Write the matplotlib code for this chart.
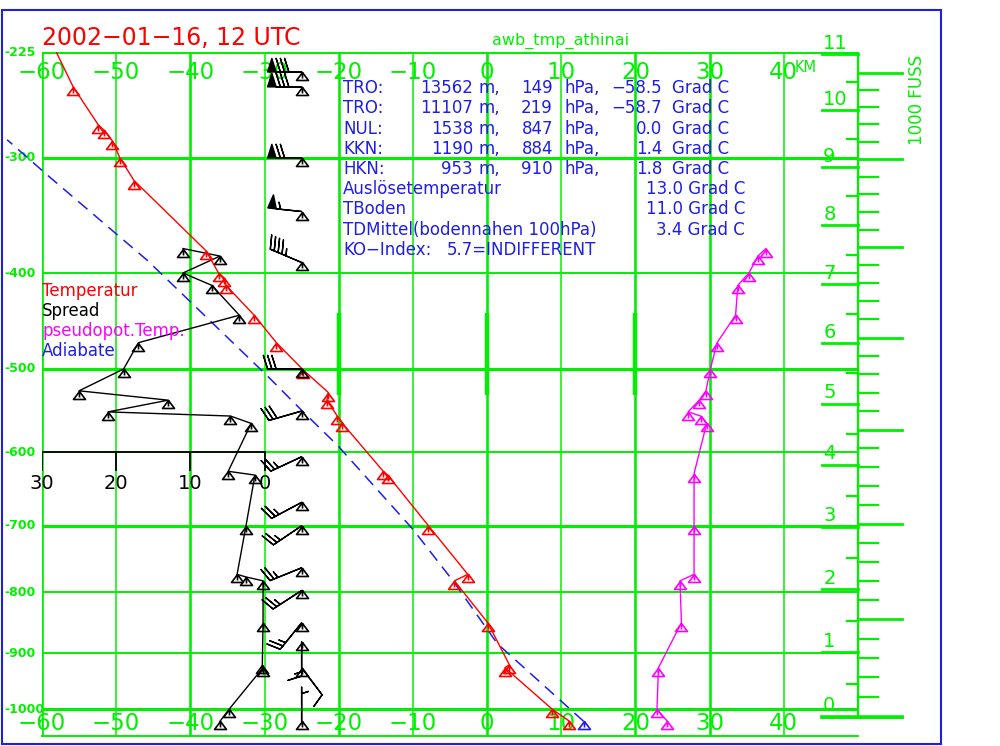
import numpy as np
import matplotlib
matplotlib.use('Agg')
import matplotlib.pyplot as plt
import matplotlib.transforms as mtransforms
from matplotlib.path import Path
from matplotlib.patches import Rectangle

GREEN = '#00f000'
BLUE = '#1e1ee6'
RED = '#ff0000'
MAG = '#ff00ff'
NARROW = ['Liberation Sans Narrow', 'DejaVu Sans']

# ---- values read off the sounding ----
# temperature (hPa, deg C)
temp_p = [1022, 1000, 925, 920, 849, 782, 772, 700, 630, 625, 564, 555, 536, 527,
          501, 471, 442, 412, 405, 400, 379, 318, 300, 287, 279, 275, 248, 219]
temp_c = [11.1, 8.8, 2.4, 3.0, 0.1, -4.4, -2.6, -7.9, -13.4, -14.0, -19.5, -20.2, -21.6, -21.4,
          -24.8, -28.4, -31.4, -35.2, -35.4, -36.2, -37.9, -47.6, -49.5, -50.5, -51.6, -52.4, -55.8, -58.7]

# spread T-Td (hPa, K), drawn on its own 30..0 scale
spread_p = [1022, 1000, 925, 920, 849, 782, 776, 772, 700, 630, 625, 564, 555, 550,
            536, 525, 500, 471, 442, 412, 400, 384, 377]
spread = [6.0, 4.8, 0.2, 0.3, 0.2, 0.2, 2.5, 3.7, 2.5, 1.3, 4.9, 1.8, 4.6, 21.1,
          13.0, 25.0, 19.0, 17.0, 3.4, 7.1, 11.0, 6.0, 11.0]

# pseudopotential temperature (hPa, deg C)
thetae_p = [1022, 1000, 925, 849, 782, 772, 700, 628, 564, 555, 550, 536, 525, 500,
            471, 442, 412, 400, 384, 377]
thetae = [24.3, 22.9, 23.1, 26.2, 26.0, 27.9, 27.9, 27.9, 29.6, 28.8, 27.1, 28.6, 29.5, 30.1,
          31.0, 33.5, 33.8, 35.3, 36.5, 37.6]

# parcel curve ("Adiabate")
adiab_p = [1022, 884, 782, 705, 592, 549, 508, 388, 314, 286]
adiab_t = [13.0, 1.4, -4.6, -10.0, -20.1, -24.9, -29.6, -45.8, -59.2, -64.7]

# wind (hPa, direction deg, speed kt)
wind_p = [238, 248, 300, 344, 390, 500, 549, 606, 667, 700, 762, 797, 849, 881, 925, 1022]
wind_dir = [270, 270, 270, 276, 293, 270, 254, 245, 242, 236, 248, 237, 219, 180, 143, 360]
wind_kt = [80, 80, 70, 55, 45, 30, 30, 25, 25, 25, 25, 25, 25, 15, 10, 5]

temp_ticks = [-60, -50, -40, -30, -20, -10, 0, 10, 20, 30, 40]
thick_t = [-60, -40, -20, 0, 20, 30]
press_grid = [225, 300, 400, 500, 600, 700, 800, 900, 1000]
thick_p = [225, 300, 500, 700, 1000]
spread_ticks = [30, 20, 10, 0]

info_rows = [('TRO:', '13562', '149', '\u221258.5'),
             ('TRO:', '11107', '219', '\u221258.7'),
             ('NUL:', '1538', '847', '0.0'),
             ('KKN:', '1190', '884', '1.4'),
             ('HKN:', '953', '910', '1.8')]
info_rows2 = [('Auslösetemperatur', '13.0 Grad C'),
              ('TBoden', '11.0 Grad C'),
              ('TDMittel(bodennahen 100hPa)', '3.4 Grad C')]

W, H = 1000, 746
fig = plt.figure(figsize=(W / 100, H / 100), dpi=100)


def fx(px):
    return px / W


def fy(py):
    return 1 - py / H


def std_p(h):
    # standard atmosphere, used for the km / feet scales
    return 1013.25 * (1 - 2.25577e-5 * h) ** 5.25588


ax = fig.add_axes([fx(42), fy(736), fx(858) - fx(42), fy(52) - fy(736)])
ax.set_yscale('function', functions=(lambda p: np.power(p, 0.286),
                                     lambda s: np.power(s, 1 / 0.286)))
ax.set_xlim(-60, 50)
ax.set_ylim(1050, 225)
ax.axis('off')

# grid
for t in temp_ticks:
    ax.axvline(t, color=GREEN, lw=1.9 if t in thick_t else 1.1, zorder=1)
for p in press_grid:
    ax.axhline(p, color=GREEN, lw=2.2 if p in thick_p else 1.4, zorder=1)
ax.axhline(1050, color=GREEN, lw=1.4, zorder=1, clip_on=False)
ax.vlines([-20, 0, 20], 440, 530, color=GREEN, lw=3.2, zorder=1)
ax.vlines(50, std_p(0), 225, color=GREEN, lw=1.6, zorder=1, clip_on=False)

# km scale (left of right edge) and 1000 ft scale (right of it)
for k in np.arange(0, 11.5, 0.5):
    p = std_p(k * 1000)
    if k == int(k):
        ax.plot([45.1, 50], [p, p], color=GREEN, lw=2.0, clip_on=False)
        ax.annotate(str(int(k)), (45.3, p), xytext=(0, 1), textcoords='offset points',
                    ha='left', va='bottom', color=GREEN, fontsize=14, family=NARROW)
    else:
        ax.plot([48.5, 50], [p, p], color=GREEN, lw=1.6, clip_on=False)
for f in range(0, 36):
    p = std_p(f * 304.8)
    if f % 5 == 0:
        ax.plot([50, 55.9], [p, p], color=GREEN, lw=2.0, clip_on=False)
        ax.annotate(str(f), (52.7, p), xytext=(0, 1), textcoords='offset points',
                    ha='left', va='bottom', color=GREEN, fontsize=14, family=NARROW)
    else:
        ax.plot([50, 52.7], [p, p], color=GREEN, lw=1.6, clip_on=False)
ax.plot([45.1, 55.9], [std_p(0), std_p(0)], color=GREEN, lw=2.6, clip_on=False)

# triangle marker with the point at its apex
tri = Path([(0, 0), (-0.75, -1), (0.75, -1), (0, 0), (0, 0), (0, -0.75)],
           [Path.MOVETO, Path.LINETO, Path.LINETO, Path.CLOSEPOLY, Path.MOVETO, Path.LINETO])
mk = dict(marker=tri, ms=11.5, mfc='none', mew=1.2)

# spread scale: x = -30 - spread
spread_tr = mtransforms.Affine2D().scale(-1, 1).translate(-30, 0) + ax.transData
ax.plot([30, 0], [600, 600], color='black', lw=1.3, transform=spread_tr, zorder=3)
for s in spread_ticks:
    ax.plot([s, s], [600, 623], color='black', lw=1.3, transform=spread_tr, zorder=3)
    ax.text(s, 628, str(s), transform=spread_tr, ha='center', va='top',
            fontsize=14, family=NARROW, color='black')

ax.plot(adiab_t, adiab_p, color=BLUE, lw=1.1, dashes=(8, 5), zorder=4, clip_on=False)
ax.plot(adiab_t[:1], adiab_p[:1], ls='none', mec=BLUE, zorder=4, **mk)
ax.plot(spread, spread_p, color='black', lw=1.0, transform=spread_tr, zorder=4, mec='black', **mk)
ax.plot(thetae, thetae_p, color=MAG, lw=1.0, zorder=4, mec=MAG, **mk)
ax.plot(temp_c, temp_p, color=RED, lw=1.0, zorder=4, mec=RED, **mk)

# wind barbs
wd = np.radians(wind_dir)
spd = np.array(wind_kt, dtype=float)
u = -spd * np.sin(wd)
v = -spd * np.cos(wd)
wx = np.full(len(wind_p), -25.0)
ax.barbs(wx, wind_p, u, v, length=7, lw=1.0, color='black',
         sizes=dict(emptybarb=0.0), zorder=5)
ax.plot(wx, wind_p, ls='none', mec='black', zorder=5, **mk)

# temperature labels top and bottom
ttop = mtransforms.blended_transform_factory(ax.transData, fig.transFigure)
for t in temp_ticks:
    lab = str(t).replace('-', '\u2212')
    ax.text(t, fy(79), lab, transform=ttop, ha='center', va='baseline',
            fontsize=16.5, color=GREEN, clip_on=False)
    ax.text(t, fy(730), lab, transform=ttop, ha='center', va='baseline',
            fontsize=16.5, color=GREEN, clip_on=False)

# pressure labels
plab = mtransforms.blended_transform_factory(fig.transFigure, ax.transData)
for p in press_grid:
    ax.text(fx(4), p, '-' + str(p), transform=plab, ha='left', va='center',
            fontsize=9, fontweight='bold', color=GREEN, clip_on=False)

# texts
fig.text(fx(42), fy(45), '2002\u221201\u221216, 12 UTC', color=RED, fontsize=17, va='baseline')
fig.text(fx(492), fy(45), 'awb_tmp_athinai', color=GREEN, fontsize=11.5, va='baseline')
fig.text(fx(795), fy(72), 'KM', color=GREEN, fontsize=10.5, va='baseline')
fig.text(fx(917), fy(100), '1000 FUSS', color=GREEN, fontsize=12, rotation=90,
         ha='center', va='center')

for i, (lab, hgt, prs, tmp) in enumerate(info_rows):
    yb = fy(93 + 20.25 * i)
    fig.text(fx(343), yb, lab, color=BLUE, fontsize=12, va='baseline')
    fig.text(fx(473), yb, hgt, color=BLUE, fontsize=12, va='baseline', ha='right')
    fig.text(fx(478), yb, 'm,', color=BLUE, fontsize=12, va='baseline')
    fig.text(fx(553), yb, prs, color=BLUE, fontsize=12, va='baseline', ha='right')
    fig.text(fx(565), yb, 'hPa,', color=BLUE, fontsize=12, va='baseline')
    fig.text(fx(662), yb, tmp, color=BLUE, fontsize=12, va='baseline', ha='right')
    fig.text(fx(672), yb, 'Grad C', color=BLUE, fontsize=12, va='baseline')
for j, (lab, val) in enumerate(info_rows2):
    yb = fy(93 + 20.25 * (5 + j))
    fig.text(fx(343), yb, lab, color=BLUE, fontsize=12, va='baseline')
    fig.text(fx(745), yb, val, color=BLUE, fontsize=12, va='baseline', ha='right')
yb = fy(93 + 20.25 * 8)
fig.text(fx(343), yb, 'KO\u2212Index:', color=BLUE, fontsize=12, va='baseline')
fig.text(fx(447), yb, '5.7=INDIFFERENT', color=BLUE, fontsize=12, va='baseline')

legend_items = [('Temperatur', RED), ('Spread', 'black'),
                ('pseudopot.Temp.', MAG), ('Adiabate', BLUE)]
for i, (lab, col) in enumerate(legend_items):
    fig.text(fx(42), fy(296 + 20 * i), lab, color=col, fontsize=12, va='baseline')

fig.patches.append(Rectangle((fx(2), fy(744)), fx(941) - fx(2), fy(10) - fy(744),
                             transform=fig.transFigure, fill=False,
                             edgecolor=BLUE, lw=1.5))

fig.savefig('out.png', dpi=100)
